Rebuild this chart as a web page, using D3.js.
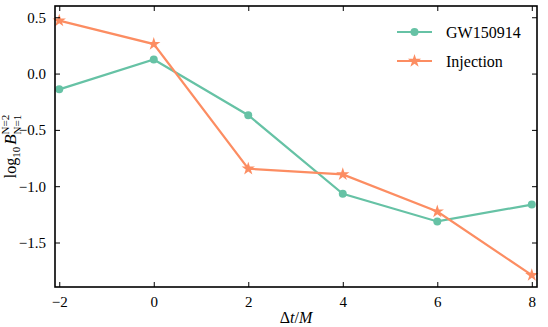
<!DOCTYPE html>
<html>
<head>
<meta charset="utf-8">
<script src="https://cdn.jsdelivr.net/npm/d3@7"></script>
<style>
  body { margin: 0; background: #fff; }
  text { font-family: "Liberation Serif", "DejaVu Serif", serif; fill: #000; }
</style>
</head>
<body>
<div id="chart"></div>
<script>
// values
var dt = [-2, 0, 2, 4, 6, 8];
var gw150914 = [-0.14, 0.125, -0.37, -1.068, -1.313, -1.163];
var injection = [0.47, 0.262, -0.845, -0.895, -1.225, -1.79];
var xTicks = [-2, 0, 2, 4, 6, 8];
var yTicks = [0.5, 0.0, -0.5, -1.0, -1.5];

var width = 548, height = 327;
var margin = {top: 6, right: 11, bottom: 40, left: 55};
var serif = "Liberation Serif, DejaVu Serif, serif";

var svg = d3.select("#chart").append("svg")
    .attr("width", width)
    .attr("height", height);

var x = d3.scaleLinear().domain([-2.09, 8.11]).range([margin.left, width - margin.right]);
var y = d3.scaleLinear().domain([-1.895, 0.6]).range([height - margin.bottom, margin.top]);

var series = [
    {name: "GW150914", values: gw150914, color: "#66c2a5", marker: "circle"},
    {name: "Injection", values: injection, color: "#fc8d62", marker: "star"}
];

var line = d3.line()
    .x(function(d) { return x(d[0]); })
    .y(function(d) { return y(d[1]); });

var circleSym = d3.symbol().type(d3.symbolCircle).size(50);
var starSym = d3.symbol().type(d3.symbolStar).size(55);

series.forEach(function(s) {
    var pts = dt.map(function(t, i) { return [t, s.values[i]]; });
    svg.append("path")
        .attr("d", line(pts))
        .attr("fill", "none")
        .attr("stroke", s.color)
        .attr("stroke-width", 2.2);
    svg.selectAll(null)
        .data(pts)
        .enter().append("path")
        .attr("transform", function(d) { return "translate(" + x(d[0]) + "," + y(d[1]) + ")"; })
        .attr("d", s.marker == "circle" ? circleSym : starSym)
        .attr("fill", s.color);
});

// axes, ticks pointing in, mirrored on all sides
var x0 = margin.left, x1 = width - margin.right;
var y0 = height - margin.bottom, y1 = margin.top;

var minus = function(d, f) { return (d < 0 ? "\u2212" : "") + f(Math.abs(d)); };

svg.append("g")
    .attr("transform", "translate(0," + y0 + ")")
    .call(d3.axisBottom(x).tickValues(xTicks).tickSizeInner(-5).tickSizeOuter(0)
        .tickPadding(9).tickFormat(function(d) { return minus(d, String); }));
svg.append("g")
    .attr("transform", "translate(0," + y1 + ")")
    .call(d3.axisTop(x).tickValues(xTicks).tickSizeInner(-5).tickSizeOuter(0).tickFormat(""));
svg.append("g")
    .attr("transform", "translate(" + x0 + ",0)")
    .call(d3.axisLeft(y).tickValues(yTicks).tickSizeInner(-5).tickSizeOuter(0)
        .tickPadding(9).tickFormat(function(d) { return minus(d, function(v) { return v.toFixed(1); }); }));
svg.append("g")
    .attr("transform", "translate(" + x1 + ",0)")
    .call(d3.axisRight(y).tickValues(yTicks).tickSizeInner(-5).tickSizeOuter(0).tickFormat(""));

svg.selectAll(".domain").remove();
svg.selectAll("g").attr("font-family", serif).attr("font-size", 15);
svg.selectAll(".tick line").attr("stroke", "#000").attr("stroke-width", 1);
svg.selectAll(".tick text").attr("fill", "#000");

svg.append("rect")
    .attr("x", x0).attr("y", y1)
    .attr("width", x1 - x0).attr("height", y0 - y1)
    .attr("fill", "none")
    .attr("stroke", "#000")
    .attr("stroke-width", 1.6);

// axis labels
var xl = svg.append("text")
    .attr("x", (x0 + x1) / 2)
    .attr("y", 323)
    .attr("text-anchor", "middle")
    .style("font-size", "16px");
xl.append("tspan").text("\u0394");
xl.append("tspan").style("font-style", "italic").text("t");
xl.append("tspan").text("/");
xl.append("tspan").style("font-style", "italic").text("M");

// y label: log10 B^{N=2}_{N=1}, built from pieces in a rotated group
var yg = svg.append("g")
    .attr("transform", "translate(16," + ((y0 + y1) / 2) + ") rotate(-90)");
var pos = 0;
function piece(txt, size, dy, italic) {
    var t = yg.append("text")
        .attr("x", pos).attr("y", dy)
        .style("font-size", size + "px")
        .style("font-style", italic ? "italic" : "normal")
        .text(txt);
    return t.node().getComputedTextLength();
}
pos += piece("log", 16, 0, false);
pos += piece("10", 11, 4, false);
pos += 2;
pos += piece("B", 17, 0, true);
var w1 = piece("N=2", 11, -7, false);
var w2 = piece("N=1", 11, 5, false);
pos += Math.max(w1, w2);
yg.selectAll("text").attr("x", function() { return +d3.select(this).attr("x") - pos / 2; });

// legend
var legend = svg.append("g");
series.forEach(function(s, i) {
    var ly = 32 + i * 29;
    legend.append("line")
        .attr("x1", 397).attr("x2", 432)
        .attr("y1", ly).attr("y2", ly)
        .attr("stroke", s.color).attr("stroke-width", 2.2);
    legend.append("path")
        .attr("transform", "translate(414.5," + ly + ")")
        .attr("d", s.marker == "circle" ? circleSym : starSym)
        .attr("fill", s.color);
    legend.append("text")
        .attr("x", 446).attr("y", ly + 5.5)
        .style("font-size", "16px")
        .text(s.name);
});
</script>
</body>
</html>
